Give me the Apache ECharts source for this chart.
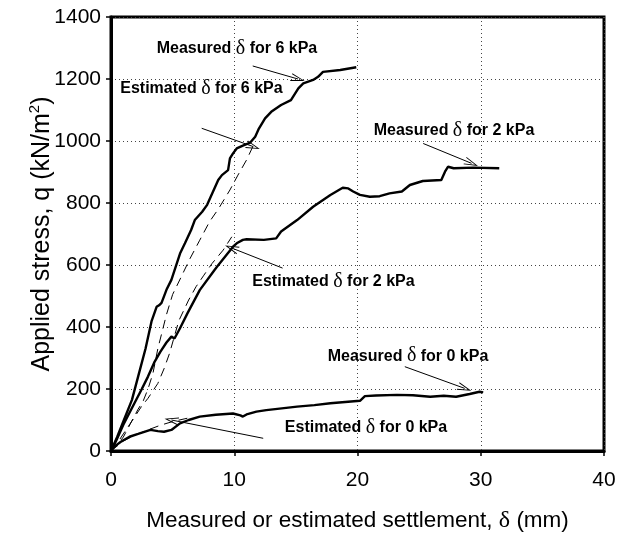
<!DOCTYPE html>
<html>
<head>
    <meta charset="utf-8">
    <title>Applied stress vs settlement</title>
    <script src="https://cdn.jsdelivr.net/npm/echarts@6/dist/echarts.min.js"></script>
    <style>
        html, body { margin: 0; padding: 0; background: #fff; }
    </style>
</head>
<body>
    <div id="chart" style="width: 619px; height: 539px;"></div>

    <script>
        // measured curves (settlement mm, stress kN/m2)
        const measured6 = [
            [0,0],[0.5,45],[1,95],[1.7,165],[2.2,240],[2.8,330],[3.3,420],[3.7,465],[3.9,470],
            [4.1,478],[4.5,520],[4.9,552],[5.6,637],[6.0,670],[6.5,713],[6.8,745],[7.4,772],
            [7.8,794],[8.7,874],[9.0,890],[9.5,906],[9.65,944],[9.9,960],[10.2,976],[10.7,985],
            [11.3,995],[11.7,1014],[12.0,1040],[12.5,1073],[13.0,1094],[13.8,1116],[14.6,1132],
            [15.2,1170],[15.6,1186],[16.4,1197],[16.8,1207],[17.2,1223],[18.6,1229],[19.9,1238]
        ];
        const measured2 = [
            [0,0],[0.5,40],[1,85],[1.9,154],[2.5,200],[3,240],[3.5,285],[4,320],[4.5,350],
            [4.9,369],[5.15,363],[5.6,396],[6.2,444],[7.2,519],[8.4,584],[8.6,594],[9.9,659],
            [10.2,670],[10.7,681],[11.0,683],[12.4,681],[13.4,686],[13.8,708],[15.1,745],
            [16.4,788],[17.8,826],[18.8,849],[19.25,847],[19.65,837],[20.2,826],[21.0,820],
            [21.8,822],[22.6,831],[23.6,837],[24.25,858],[25.3,871],[26.8,874],[27.1,901],
            [27.35,917],[27.8,912],[29.4,914],[31.5,912]
        ];
        const measured0 = [
            [0,0],[0.3,15],[0.8,30],[1.5,46],[2.2,55],[3.2,68],[3.8,64],[4.3,62],[4.9,68],
            [5.6,89],[6.3,100],[7.2,111],[8.5,117],[9.9,121],[10.5,115],[10.7,111],[11.0,118],
            [11.8,127],[12.6,132],[13.5,136],[15.1,143],[16.5,148],[17.8,154],[19,158],
            [20.2,162],[20.6,177],[21.5,179],[23.2,181],[24.5,180],[25.9,175],[27,178],
            [28,175],[29.1,184],[29.9,191],[30.2,189]
        ];

        // estimated curves (dashed)
        const estimated6 = [
            [0,0],[0.5,20],[1,45],[1.6,90],[2.2,135],[2.6,160],[3.0,200],[3.4,250],[3.8,330],
            [4.5,440],[5.0,505],[5.7,562],[6.4,620],[7.2,680],[8.0,740],[8.7,780],[9.65,842],
            [10.3,890],[11.0,939],[11.6,990]
        ];
        const estimated2 = [
            [0,0],[0.5,25],[1,55],[1.5,85],[2,115],[2.5,145],[3,170],[3.8,218],[4.3,265],
            [4.75,315],[5.5,420],[6.3,487],[6.9,530],[7.5,565],[8.2,605],[9.1,648],[9.8,691]
        ];
        const estimated0 = [
            [0,0],[1,32],[2,52],[3,68],[4,83],[5,95],[6,104],[6.6,109]
        ];

        // annotation texts, their centres and arrows (data units)
        const noteKind = ['Measured', 'Estimated', 'Measured', 'Estimated', 'Measured', 'Estimated'];
        const notePressure = ['6', '6', '2', '2', '0', '0'];
        const noteX = [10.22, 7.34, 27.83, 18.05, 24.1, 20.69];
        const noteY = [1297, 1168, 1032, 545, 306, 74];
        const arrowFrom = [[11.5,1242],[7.36,1041],[25.33,992],[13.92,590],[23.84,272],[12.35,41]];
        const arrowTo = [[15.17,1200],[11.54,982],[29.25,928],[9.78,655],[28.7,202],[4.9,100]];

        const xTicks = { min: 0, max: 40, interval: 10 };
        const yTicks = { min: 0, max: 1400, interval: 200 };

        const chart = echarts.init(document.getElementById('chart'));

        const font = 'Liberation Sans, Arial, sans-serif';
        const serif = 'Liberation Serif, Times New Roman, serif';

        const solid = (data) => ({
            type: 'line', data: data, showSymbol: false, smooth: false,
            lineStyle: { color: '#000', width: 2.4 }, z: 3
        });
        const dashed = (data) => ({
            type: 'line', data: data, showSymbol: false, smooth: false,
            lineStyle: { color: '#000', width: 1, type: [9, 6] }, z: 3
        });

        const notes = noteX.map((x, i) => ({
            value: [x, noteY[i]],
            label: {
                formatter: '{b|' + noteKind[i] + ' }{d|δ}{b| for ' + notePressure[i] + ' kPa}'
            }
        }));

        const option = {
            animation: false,
            textStyle: { fontFamily: font },
            grid: {
                left: 111, top: 17, right: 15, bottom: 88,
                show: true, borderColor: '#000', borderWidth: 3, backgroundColor: 'transparent'
            },
            xAxis: {
                type: 'value',
                min: xTicks.min, max: xTicks.max, interval: xTicks.interval,
                name: '{a|Measured or estimated settlement, }{d|δ}{a| (mm)}',
                nameLocation: 'middle',
                nameGap: 58,
                nameMoveOverlap: false,
                nameTextStyle: {
                    rich: {
                        a: { fontFamily: font, fontSize: 22.5, color: '#000' },
                        d: { fontFamily: serif, fontSize: 24, color: '#000' }
                    }
                },
                axisLine: { lineStyle: { color: '#000', width: 3 } },
                axisTick: { show: true, inside: false, length: 5, lineStyle: { color: '#000', width: 1.5 } },
                axisLabel: { color: '#000', fontSize: 21, fontFamily: font, margin: 19 },
                splitLine: { show: true, lineStyle: { color: '#444', width: 1, type: [1, 3] } }
            },
            yAxis: {
                type: 'value',
                min: yTicks.min, max: yTicks.max, interval: yTicks.interval,
                name: '{a|Applied stress, q (kN/m}{s|2}{a|)}',
                nameLocation: 'middle',
                nameGap: 54,
                nameMoveOverlap: false,
                nameRotate: 90,
                nameTextStyle: {
                    rich: {
                        a: { fontFamily: font, fontSize: 25, color: '#000', lineHeight: 30 },
                        s: { fontFamily: font, fontSize: 15, color: '#000', padding: [0, 0, 14, 0] }
                    }
                },
                axisLine: { lineStyle: { color: '#000', width: 3 } },
                axisTick: { show: true, inside: false, length: 5, lineStyle: { color: '#000', width: 1.5 } },
                axisLabel: {
                    color: '#000', fontSize: 21, fontFamily: font, margin: 10,
                    formatter: (v) => String(v)
                },
                splitLine: { show: true, lineStyle: { color: '#444', width: 1, type: [1, 3] } }
            },
            series: [
                solid(measured6),
                solid(measured2),
                solid(measured0),
                dashed(estimated6),
                dashed(estimated2),
                dashed(estimated0),
                {
                    type: 'scatter',
                    data: notes,
                    symbolSize: 0,
                    silent: true,
                    z: 5,
                    itemStyle: { opacity: 1 },
                    label: {
                        show: true,
                        position: 'inside',
                        color: '#000',
                        textBorderWidth: 0,
                        rich: {
                            b: { fontFamily: font, fontWeight: 'bold', fontSize: 16, color: '#000', textBorderWidth: 0 },
                            d: { fontFamily: serif, fontSize: 20, color: '#000', textBorderWidth: 0 }
                        }
                    },
                    markLine: {
                        silent: true,
                        symbol: ['none', 'path://M5,0 L10,10 L8.8,10 L5,2.2 L1.2,10 L0,10 Z'],
                        symbolSize: [8, 14],
                        label: { show: false },
                        lineStyle: { color: '#000', width: 1, type: 'solid', opacity: 1 },
                        emphasis: { disabled: true },
                        data: arrowFrom.map((p, i) => [{ coord: p }, { coord: arrowTo[i] }])
                    }
                }
            ]
        };

        chart.setOption(option);
    </script>
</body>
</html>
